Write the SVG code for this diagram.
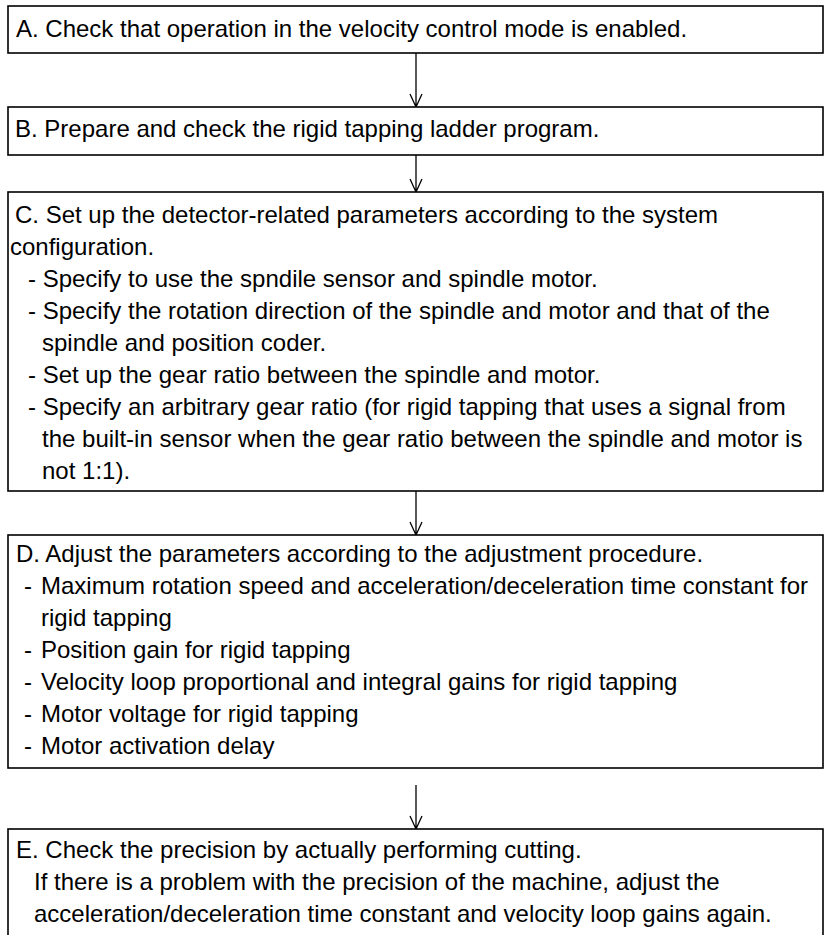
<svg xmlns="http://www.w3.org/2000/svg" width="826" height="935" viewBox="0 0 826 935">
<style>
.box{fill:#fff;stroke:#000;stroke-width:1.6}
.t{font-family:"Liberation Sans",Arial,sans-serif;font-size:24px;fill:#000}
.c{stroke:#000;stroke-width:1.3;fill:none}
</style>
<rect width="826" height="935" fill="#fff"/>
<g id="connectors">
<path class="c" d="M416 53V107M410 94L416 107L422 94"/>
<path class="c" d="M416 155V192M410 179L416 192L422 179"/>
<path class="c" d="M416 491V535M410 522L416 535L422 522"/>
<path class="c" d="M416 785V829M410 816L416 829L422 816"/>
</g>
<g id="A"><rect class="box" x="8" y="6" width="815" height="47"/>
<text class="t" x="16" y="37">A. Check that operation in the velocity control mode is enabled.</text></g>
<g id="B"><rect class="box" x="8" y="107" width="815" height="48"/>
<text class="t" x="15" y="137">B. Prepare and check the rigid tapping ladder program.</text></g>
<g id="C"><rect class="box" x="8" y="192" width="815" height="299"/>
<text class="t" x="15" y="223">C. Set up the detector-related parameters according to the system</text>
<text class="t" x="10" y="255">configuration.</text>
<text class="t" x="28" y="287">- Specify to use the spndile sensor and spindle motor.</text>
<text class="t" x="28" y="319">- Specify the rotation direction of the spindle and motor and that of the</text>
<text class="t" x="42" y="351">spindle and position coder.</text>
<text class="t" x="28" y="383">- Set up the gear ratio between the spindle and motor.</text>
<text class="t" x="28" y="415">- Specify an arbitrary gear ratio (for rigid tapping that uses a signal from</text>
<text class="t" x="42" y="447">the built-in sensor when the gear ratio between the spindle and motor is</text>
<text class="t" x="42" y="479">not 1:1).</text></g>
<g id="D"><rect class="box" x="8" y="535" width="815" height="233"/>
<text class="t" x="16" y="562">D. Adjust the parameters according to the adjustment procedure.</text>
<text class="t" x="24" y="594">-</text><text class="t" x="41" y="594">Maximum rotation speed and acceleration/deceleration time constant for</text>
<text class="t" x="41" y="626">rigid tapping</text>
<text class="t" x="24" y="658">-</text><text class="t" x="41" y="658">Position gain for rigid tapping</text>
<text class="t" x="24" y="690">-</text><text class="t" x="41" y="690">Velocity loop proportional and integral gains for rigid tapping</text>
<text class="t" x="24" y="722">-</text><text class="t" x="41" y="722">Motor voltage for rigid tapping</text>
<text class="t" x="24" y="754">-</text><text class="t" x="41" y="754">Motor activation delay</text></g>
<g id="E"><rect class="box" x="8" y="829" width="815" height="120"/>
<text class="t" x="16" y="858">E. Check the precision by actually performing cutting.</text>
<text class="t" x="34" y="890">If there is a problem with the precision of the machine, adjust the</text>
<text class="t" x="34" y="922">acceleration/deceleration time constant and velocity loop gains again.</text></g>
</svg>
